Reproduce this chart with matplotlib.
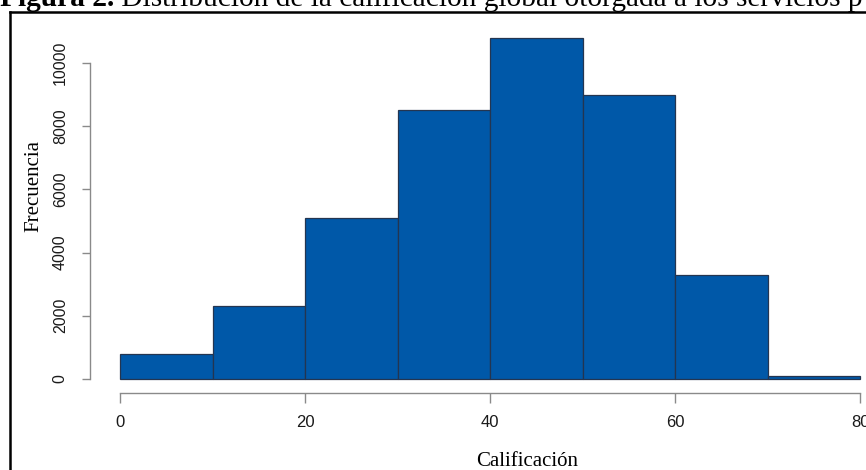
import matplotlib
matplotlib.use("Agg")
import matplotlib.pyplot as plt
from matplotlib.lines import Line2D
import numpy as np

# Data
bin_edges = [0, 10, 20, 30, 40, 50, 60, 70, 80]
frequencies = [800, 2300, 5100, 8500, 10800, 9000, 3300, 80]
x_ticks = [0, 20, 40, 60, 80]
y_ticks = [0, 2000, 4000, 6000, 8000, 10000]
title_bold = "Figura 2."
title_rest = " Distribución de la calificación global otorgada a los servicios p"
xlabel = "Calificación"
ylabel = "Frecuencia"

W, H = 866, 470
fig = plt.figure(figsize=(W / 100, H / 100), dpi=100)

def fx(px):
    return px / W

def fy(py):
    return 1 - py / H

# Axes in pixel geometry
ax_left, ax_right, ax_top, ax_bottom = 90, 866, 20, 393
ax = fig.add_axes([fx(ax_left), fy(ax_bottom), fx(ax_right - ax_left), (ax_bottom - ax_top) / H])

# data->pixel mapping: x 0->120, 80->860 ; y 0->379, 10000->63
xpx_per = (860 - 120) / 80.0
ypx_per = (379 - 63) / 10000.0
ax.set_xlim((ax_left - 120) / xpx_per, (ax_right - 120) / xpx_per)
ax.set_ylim((379 - ax_bottom) / ypx_per, (379 - ax_top) / ypx_per)

bar_color = "#0058A8"
edge_color = "#243550"
lefts = np.array(bin_edges[:-1])
widths = np.diff(bin_edges)
ax.bar(lefts, frequencies, width=widths, align="edge", color=bar_color,
       edgecolor=edge_color, linewidth=0.9)

for s in ["top", "right"]:
    ax.spines[s].set_visible(False)
axis_grey = "#8a8a8a"
ax.spines["left"].set_bounds(0, 10000)
ax.spines["bottom"].set_bounds(0, 80)
for s in ["left", "bottom"]:
    ax.spines[s].set_color(axis_grey)
    ax.spines[s].set_linewidth(1.0)

sans = ["Liberation Sans", "DejaVu Sans"]
ax.set_xticks(x_ticks)
ax.set_yticks(y_ticks)
ax.set_xticklabels([str(v) for v in x_ticks], fontsize=12, family=sans, color="#1a1a1a")
ax.set_yticklabels([str(v) for v in y_ticks], fontsize=11.5, rotation=90, va="center",
                   family=sans, color="#1a1a1a")
ax.tick_params(axis="x", length=7, width=1, color=axis_grey, pad=9)
ax.tick_params(axis="y", length=6, width=1, color=axis_grey, pad=10)

serif = ["Liberation Serif", "DejaVu Serif"]
fig.text(fx(527), fy(466), xlabel, ha="center", va="baseline", fontsize=15, family=serif)
fig.text(fx(34), fy(186), ylabel, ha="center", va="center", rotation=90, fontsize=15, family=serif)

# Title (cut off at the top like the reference)
t1 = fig.text(fx(0), fy(6), title_bold, ha="left", va="baseline", fontsize=21.2,
              family=serif, weight="bold")
fig.canvas.draw()
bb = t1.get_window_extent()
fig.text(bb.x1 / W, fy(6), title_rest, ha="left", va="baseline", fontsize=21.2, family=serif)

# Frame border
fig.add_artist(Line2D([fx(10), fx(10)], [fy(12), fy(470)], color="black", lw=1.8,
                      transform=fig.transFigure))
fig.add_artist(Line2D([fx(10), fx(866)], [fy(12), fy(12)], color="black", lw=1.8,
                      transform=fig.transFigure))

fig.savefig("out.png", dpi=100)
